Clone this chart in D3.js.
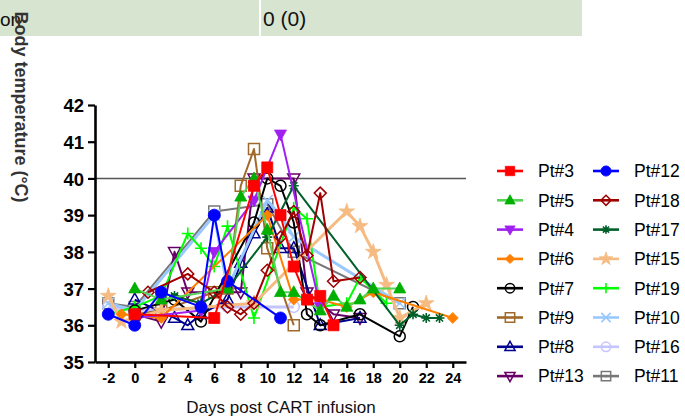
<!DOCTYPE html>
<html><head><meta charset="utf-8">
<script src="https://cdn.jsdelivr.net/npm/d3@7"></script>
<style>
html,body{margin:0;padding:0;background:#fff;}
svg{display:block;font-family:"Liberation Sans",Arial,sans-serif;}
</style></head>
<body>
<svg id="chart" width="685" height="420"></svg>
<script>
// ---- data (day, body temperature °C) ----
const xTicks = [-2,0,2,4,6,8,10,12,14,16,18,20,22,24];
const yTicks = [35,36,37,38,39,40,41,42];
const pt3  = [[0,36.3],[6,36.2],[9,39.8],[10,40.3],[11,39.0],[12,37.6],[13,36.7],[14,36.8],[15,36.0]];
const pt12 = [[-2,36.3],[0,36.0],[2,36.9],[5,36.5],[6,39.0],[7,37.2],[11,36.2]];
const pt5  = [[0,37.0],[2,36.7],[7,37.0],[8,39.5],[9,40.0],[10,38.6],[11,36.9],[12,36.9],[14,36.4],[15,36.8],[16,36.5],[17,36.7],[18,37.0],[20,37.0]];
const pt18 = [[1,36.9],[4,37.4],[6,36.9],[7,36.5],[8,36.3],[9,36.6],[10,37.5],[11,38.4],[12,39.1],[13,37.9],[14,39.6],[15,37.2],[17,37.3]];
const pt4  = [[0,36.2],[5,36.4],[6,38.0],[9,39.4],[11,41.2],[14,36.5]];
const pt17 = [[3,36.8],[5,36.6],[7,37.0],[10,38.4],[12,39.8],[20,36.0],[21,36.3],[22,36.2],[23,36.2]];
const pt6  = [[-1,36.3],[2,36.2],[10,39.0],[12,36.7],[14,36.7],[16,36.5],[18,36.9],[24,36.2]];
const pt15 = [[-2,36.8],[-1,36.1],[2,36.4],[9,36.6],[16,39.1],[17,38.7],[18,38.0],[19,37.1],[20,36.2],[22,36.6]];
const pt7  = [[0,36.4],[3,36.7],[5,36.1],[9,38.8],[10,40.0],[11,39.8],[12,38.8],[13,36.3],[14,36.0],[17,36.3],[20,35.7],[21,36.5]];
const pt19 = [[-2,36.3],[0,36.5],[2,36.8],[4,38.5],[5,38.1],[6,37.6],[7,38.7],[9,36.2],[12,39.2],[13,38.9],[14,36.5],[16,36.6],[17,37.3],[19,36.6]];
const pt9  = [[0,36.3],[2,36.4],[6,36.9],[7,37.0],[8,39.8],[9,40.8],[10,38.1],[12,36.0]];
const pt10 = [[-2,36.6],[0,36.4],[6,39.0],[7,37.0],[10,39.4],[11,39.0],[12,38.4],[20,36.6]];
const pt8  = [[0,36.7],[3,36.2],[4,36.0],[5,36.3],[7,36.7],[8,37.7],[9,38.5],[10,39.2],[11,38.1],[12,38.1],[14,36.0],[17,36.2]];
const pt16 = [[-2,36.5],[0,36.4],[7,36.5],[12,36.5]];
const pt13 = [[0,36.3],[2,36.1],[3,38.0],[4,36.9],[8,36.9],[9,40.0],[12,40.0],[13,36.9],[15,36.3],[17,36.2]];
const pt11 = [[-2,36.6],[0,36.5],[6,39.1],[10,39.3],[12,38.0],[20,36.6]];

// legend order (two columns)
const col1 = ["Pt#3","Pt#5","Pt#4","Pt#6","Pt#7","Pt#9","Pt#8","Pt#13"];
const col2 = ["Pt#12","Pt#18","Pt#17","Pt#15","Pt#19","Pt#10","Pt#16","Pt#11"];

const series = {
  "Pt#3":  {data:pt3,  line:"#ff0000", mark:"#ff0000", sym:"square",  fill:true,  ms:11},
  "Pt#12": {data:pt12, line:"#0000ff", mark:"#0000ff", sym:"circle",  fill:true,  ms:12},
  "Pt#5":  {data:pt5,  line:"#55d455", mark:"#00b000", sym:"tri",     fill:true,  ms:12},
  "Pt#18": {data:pt18, line:"#a00000", mark:"#a00000", sym:"diamond", fill:false, ms:12},
  "Pt#4":  {data:pt4,  line:"#a020f0", mark:"#a020f0", sym:"tridown", fill:true,  ms:12},
  "Pt#17": {data:pt17, line:"#00602a", mark:"#00602a", sym:"aster",   fill:false, ms:10},
  "Pt#6":  {data:pt6,  line:"#ff8000", mark:"#ff8000", sym:"diamond", fill:true,  ms:11},
  "Pt#15": {data:pt15, line:"#f5bb82", mark:"#f5bb82", sym:"star",    fill:true,  ms:13},
  "Pt#7":  {data:pt7,  line:"#000000", mark:"#000000", sym:"circle",  fill:false, ms:11},
  "Pt#19": {data:pt19, line:"#00ff00", mark:"#00ff00", sym:"plus",    fill:false, ms:12},
  "Pt#9":  {data:pt9,  line:"#a0692a", mark:"#a0692a", sym:"square",  fill:false, ms:11},
  "Pt#10": {data:pt10, line:"#99c8ff", mark:"#99c8ff", sym:"x",       fill:false, ms:11},
  "Pt#8":  {data:pt8,  line:"#000090", mark:"#000090", sym:"tri",     fill:false, ms:12},
  "Pt#16": {data:pt16, line:"#c4c4ff", mark:"#c4c4ff", sym:"circle",  fill:false, ms:11},
  "Pt#13": {data:pt13, line:"#660066", mark:"#660066", sym:"tridown", fill:false, ms:12},
  "Pt#11": {data:pt11, line:"#777777", mark:"#777777", sym:"sqdot",   fill:false, ms:11}
};

const svg = d3.select("#chart");

// ---- top table strip ----
svg.append("rect").attr("x",0).attr("y",0).attr("width",582).attr("height",36).attr("fill","#d6e4d0");
svg.append("rect").attr("x",259).attr("y",0).attr("width",2).attr("height",36).attr("fill","#ffffff");
svg.append("text").attr("x",263).attr("y",26).attr("font-size",21).attr("fill","#111").text("0 (0)");
svg.append("text").attr("x",0).attr("y",26).attr("font-size",19).attr("fill","#111").text("on");

// ---- scales ----
const x = d3.scaleLinear().domain([-3,25]).range([95,466]);
const y = d3.scaleLinear().domain([35,42]).range([362,105]);

// reference line at 40
svg.append("line").attr("x1",x(-3)).attr("x2",x(25)).attr("y1",y(40)).attr("y2",y(40))
  .attr("stroke","#555").attr("stroke-width",1.6);

// ---- markers ----
function markerPath(sym, s){
  const r = s/2;
  switch(sym){
    case "square": case "sqdot": return `M${-r},${-r}H${r}V${r}H${-r}Z`;
    case "circle": return d3.symbol(d3.symbolCircle, Math.PI*r*r)();
    case "tri": { const h=s*0.9; return `M0,${-h*0.6}L${r},${h*0.4}L${-r},${h*0.4}Z`; }
    case "tridown": { const h=s*0.9; return `M0,${h*0.6}L${r},${-h*0.4}L${-r},${-h*0.4}Z`; }
    case "diamond": return `M0,${-r}L${r},0L0,${r}L${-r},0Z`;
    case "star": return d3.symbol(d3.symbolStar, s*s*0.45)();
    case "plus": return `M${-r},0H${r}M0,${-r}V${r}`;
    case "x": return `M${-r},${-r}L${r},${r}M${-r},${r}L${r},${-r}`;
    case "aster": { const a=r*0.72; return `M${-r},0H${r}M0,${-r}V${r}M${-a},${-a}L${a},${a}M${-a},${a}L${a},${-a}`; }
  }
}
function drawMarker(g, cfg, cx, cy, s){
  const p = g.append("path").attr("transform",`translate(${cx},${cy})`).attr("d", markerPath(cfg.sym, s));
  if (cfg.fill){ p.attr("fill",cfg.mark).attr("stroke",cfg.mark).attr("stroke-width",0.8); }
  else if (["plus","x","aster"].includes(cfg.sym)){ p.attr("fill","none").attr("stroke",cfg.mark).attr("stroke-width",1.6); }
  else { p.attr("fill","#fff").attr("fill-opacity",0).attr("stroke",cfg.mark).attr("stroke-width",1.5); }
  if (cfg.sym==="sqdot"){
    g.append("circle").attr("cx",cx).attr("cy",cy).attr("r",1.3).attr("fill",cfg.mark);
  }
}

// ---- series (draw in reverse legend order so Pt#3 / Pt#12 end on top) ----
const order = [];
for (let i=col1.length-1;i>=0;i--){ order.push(col2[i]); order.push(col1[i]); }
const lineGen = d3.line().x(d=>x(d[0])).y(d=>y(d[1]));
const plot = svg.append("g");
order.forEach(name=>{
  const cfg = series[name];
  const g = plot.append("g");
  g.append("path").datum(cfg.data).attr("d",lineGen).attr("fill","none")
    .attr("stroke",cfg.line).attr("stroke-width", (name==="Pt#10"||name==="Pt#15"||name==="Pt#16")?3:2)
    .attr("stroke-linejoin","round");
  cfg.data.forEach(d=>drawMarker(g,cfg,x(d[0]),y(d[1]),cfg.ms));
});

// ---- axes ----
const fmt = d => String(d);
const yAxis = svg.append("g").attr("transform",`translate(${x(-3)},0)`)
  .call(d3.axisLeft(y).tickValues(yTicks).tickFormat(fmt).tickSize(7).tickSizeOuter(0).tickPadding(4));
const xAxis = svg.append("g").attr("transform",`translate(0,${y(35)})`)
  .call(d3.axisBottom(x).tickValues(xTicks).tickFormat(fmt).tickSize(6).tickSizeOuter(0).tickPadding(5));
[yAxis,xAxis].forEach(a=>{
  a.select(".domain").attr("stroke","#000").attr("stroke-width",2.6);
  a.selectAll(".tick line").attr("stroke","#000").attr("stroke-width",2.2);
  a.selectAll("text").attr("fill","#000").attr("font-family","'Liberation Sans',Arial,sans-serif").attr("font-weight","bold");
});
yAxis.selectAll("text").attr("font-size",18.5).attr("dy","0.36em");
xAxis.selectAll("text").attr("font-size",14.5);

// axis titles
svg.append("text").attr("x",281).attr("y",413).attr("text-anchor","middle").attr("font-size",17)
  .attr("fill","#111").text("Days post CART infusion");
svg.append("text").attr("transform","translate(21,107) rotate(90)").attr("text-anchor","middle")
  .attr("dominant-baseline","central").attr("font-size",18).attr("font-weight","bold").attr("fill","#333")
  .text("Body temperature (°C)");

// ---- legend ----
const leg = svg.append("g");
function legendCol(names, lx0, tx){
  names.forEach((name,i)=>{
    const cfg = series[name];
    const cy = 171 + i*29.3;
    leg.append("line").attr("x1",lx0).attr("x2",lx0+26).attr("y1",cy).attr("y2",cy)
      .attr("stroke",cfg.line).attr("stroke-width",2.6);
    drawMarker(leg,cfg,lx0+13,cy,cfg.ms*0.85);
    leg.append("text").attr("x",tx).attr("y",cy).attr("dy","0.36em").attr("font-size",17.5)
      .attr("fill","#000").text(name);
  });
}
legendCol(col1, 497, 538);
legendCol(col2, 593, 634);
</script>
</body></html>
